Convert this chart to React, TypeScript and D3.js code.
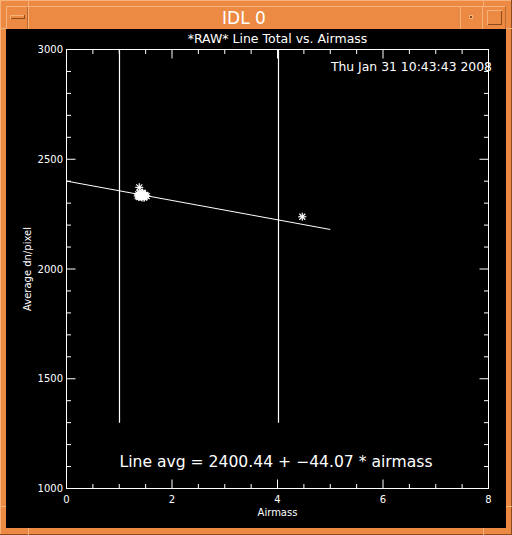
import React from "react";
import * as d3 from "d3";

const titleText = "*RAW* Line Total vs. Airmass";
const dateText = "Thu Jan 31 10:43:43 2008";
const xLabel = "Airmass";
const yLabel = "Average dn/pixel";
const fitText = "Line avg = 2400.44 + \u221244.07 * airmass";

const xDomain = [0, 8];
const yDomain = [1000, 3000];
const xMajorTicks = [0, 2, 4, 6, 8];
const xMinorTicks = [0.5, 1, 1.5, 2.5, 3, 3.5, 4.5, 5, 5.5, 6.5, 7, 7.5];
const yMajorTicks = [1000, 1500, 2000, 2500, 3000];
const yMinorTicks = [1100, 1200, 1300, 1400, 1600, 1700, 1800, 1900, 2100, 2200, 2300, 2400, 2600, 2700, 2800, 2900];

const fitIntercept = 2400.44;
const fitSlope = -44.07;
const fitRange = [0, 5];

const markerAirmass = [1, 4];
const markerRange = [1300, 3000];

const airmass = [1.38, 1.36, 1.38, 1.40, 1.42, 1.44, 1.46, 1.48, 1.50, 1.37, 1.41, 1.43, 1.45, 1.47, 1.39, 1.52, 1.35, 1.44, 1.49, 4.47];
const lineTotal = [2372, 2340, 2335, 2330, 2338, 2332, 2336, 2330, 2334, 2328, 2342, 2326, 2344, 2325, 2345, 2332, 2333, 2348, 2338, 2238];

const ORANGE = "#ec8a43";
const LIGHT = "#f6b27a";
const DARK = "#8c4a1c";
const FONT = "DejaVu Sans, sans-serif";

export default function App() {
  const x = d3.scaleLinear().domain(xDomain).range([66.5, 488.5]);
  const y = d3.scaleLinear().domain(yDomain).range([488.5, 49.5]);
  const line = d3.line<number>().x((d) => x(d)).y((d) => y(fitIntercept + fitSlope * d));
  const [x0, x1] = x.range();
  const [yb, yt] = y.range();
  const star = (cx: number, cy: number, i: number) => {
    const r = 4;
    const rd = 3;
    return (
      <g key={i} stroke="white" strokeWidth={1.2}>
        <line x1={cx - r} y1={cy} x2={cx + r} y2={cy} />
        <line x1={cx} y1={cy - r} x2={cx} y2={cy + r} />
        <line x1={cx - rd} y1={cy - rd} x2={cx + rd} y2={cy + rd} />
        <line x1={cx - rd} y1={cy + rd} x2={cx + rd} y2={cy - rd} />
      </g>
    );
  };
  return (
    <svg width={512} height={535} style={{ position: "absolute", left: 0, top: 0 }}>
      {/* window frame */}
      <rect x={0} y={0} width={512} height={535} fill={ORANGE} />
      <line x1={0} y1={0.5} x2={511} y2={0.5} stroke={LIGHT} strokeWidth={1} />
      <line x1={0.5} y1={0} x2={0.5} y2={534} stroke={LIGHT} strokeWidth={1} />
      <line x1={511.5} y1={0} x2={511.5} y2={535} stroke={DARK} strokeWidth={1} />
      <line x1={0} y1={534.5} x2={512} y2={534.5} stroke={DARK} strokeWidth={1} />
      {/* corner notches */}
      <line x1={0} y1={28.5} x2={6} y2={28.5} stroke={LIGHT} />
      <line x1={28.5} y1={0} x2={28.5} y2={6} stroke={LIGHT} />
      <line x1={483.5} y1={0} x2={483.5} y2={6} stroke={LIGHT} />
      <line x1={506} y1={28.5} x2={512} y2={28.5} stroke={LIGHT} />
      <line x1={0} y1={506.5} x2={6} y2={506.5} stroke={LIGHT} />
      <line x1={28.5} y1={528} x2={28.5} y2={535} stroke={LIGHT} />
      <line x1={483.5} y1={528} x2={483.5} y2={535} stroke={LIGHT} />
      <line x1={506} y1={506.5} x2={512} y2={506.5} stroke={LIGHT} />
      {/* title bar */}
      <line x1={6} y1={6.5} x2={506} y2={6.5} stroke={LIGHT} />
      <line x1={6.5} y1={6} x2={6.5} y2={29} stroke={LIGHT} />
      <line x1={28.5} y1={6} x2={28.5} y2={29} stroke={LIGHT} />
      <line x1={27.5} y1={7} x2={27.5} y2={29} stroke={DARK} opacity={0.5} />
      <line x1={460.5} y1={6} x2={460.5} y2={29} stroke={LIGHT} />
      <line x1={482.5} y1={6} x2={482.5} y2={29} stroke={LIGHT} />
      <line x1={505.5} y1={6} x2={505.5} y2={29} stroke={DARK} opacity={0.5} />
      {/* minimize button */}
      <rect x={10.5} y={15.5} width={14} height={3} fill="none" stroke={LIGHT} />
      <line x1={11} y1={18.5} x2={25} y2={18.5} stroke={DARK} />
      <line x1={24.5} y1={15} x2={24.5} y2={19} stroke={DARK} />
      {/* small square */}
      <rect x={469.5} y={15.5} width={3} height={3} fill={DARK} stroke={LIGHT} />
      {/* maximize square */}
      <rect x={487.5} y={10.5} width={14} height={14} fill="none" stroke={LIGHT} />
      <line x1={488} y1={24.5} x2={502} y2={24.5} stroke={DARK} />
      <line x1={501.5} y1={11} x2={501.5} y2={25} stroke={DARK} />
      <text x={244} y={24} fill="white" fontFamily={FONT} fontSize={17} textAnchor="middle">IDL 0</text>

      {/* plot area */}
      <rect x={6} y={29} width={500} height={499} fill="black" />

      <text x={(x0 + x1) / 2} y={43} fill="white" fontFamily={FONT} fontSize={12.5} textAnchor="middle">{titleText}</text>
      <text x={492} y={71} fill="white" fontFamily={FONT} fontSize={12.4} textAnchor="end">{dateText}</text>

      <rect x={x0} y={yt} width={x1 - x0} height={yb - yt} fill="none" stroke="white" strokeWidth={1} />
      {xMajorTicks.map((t) => (
        <g key={"xM" + t} stroke="white">
          <line x1={x(t)} y1={yb} x2={x(t)} y2={yb - 9} />
          <line x1={x(t)} y1={yt} x2={x(t)} y2={yt + 9} />
        </g>
      ))}
      {xMinorTicks.map((t) => (
        <g key={"xm" + t} stroke="white">
          <line x1={x(t)} y1={yb} x2={x(t)} y2={yb - 4.5} />
          <line x1={x(t)} y1={yt} x2={x(t)} y2={yt + 4.5} />
        </g>
      ))}
      {yMajorTicks.map((t) => (
        <g key={"yM" + t} stroke="white">
          <line x1={x0} y1={y(t)} x2={x0 + 9} y2={y(t)} />
          <line x1={x1} y1={y(t)} x2={x1 - 9} y2={y(t)} />
        </g>
      ))}
      {yMinorTicks.map((t) => (
        <g key={"ym" + t} stroke="white">
          <line x1={x0} y1={y(t)} x2={x0 + 4.5} y2={y(t)} />
          <line x1={x1} y1={y(t)} x2={x1 - 4.5} y2={y(t)} />
        </g>
      ))}
      {xMajorTicks.map((t) => (
        <text key={"xl" + t} x={x(t)} y={503} fill="white" fontFamily={FONT} fontSize={10} textAnchor="middle">{t}</text>
      ))}
      {yMajorTicks.map((t) => (
        <text key={"yl" + t} x={63} y={y(t) + 3.5} fill="white" fontFamily={FONT} fontSize={10} textAnchor="end">{t}</text>
      ))}
      <text x={(x0 + x1) / 2} y={516} fill="white" fontFamily={FONT} fontSize={10} textAnchor="middle">{xLabel}</text>
      <text transform={`translate(31,${(yt + yb) / 2}) rotate(-90)`} fill="white" fontFamily={FONT} fontSize={10} textAnchor="middle">{yLabel}</text>

      {markerAirmass.map((m) => (
        <line key={"v" + m} x1={Math.round(x(m)) + 0.5} y1={y(markerRange[1])} x2={Math.round(x(m)) + 0.5} y2={y(markerRange[0])} stroke="white" strokeWidth={1.2} />
      ))}
      <path d={line(fitRange) || ""} fill="none" stroke="white" strokeWidth={1} />
      {airmass.map((a, i) => star(x(a), y(lineTotal[i]), i))}

      <text x={276} y={467} fill="white" fontFamily={FONT} fontSize={15.6} textAnchor="middle">{fitText}</text>
    </svg>
  );
}
